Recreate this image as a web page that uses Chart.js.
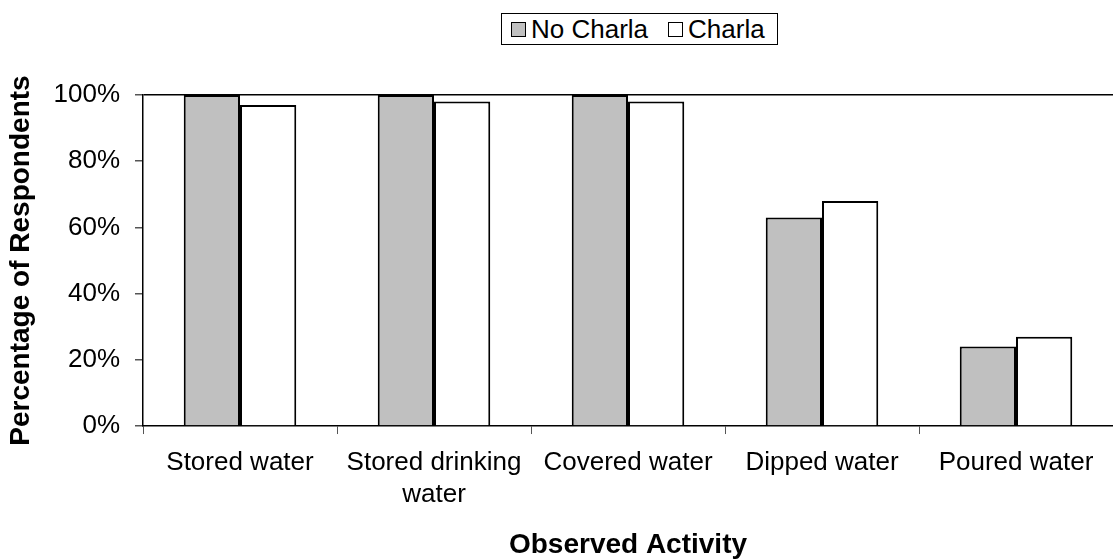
<!DOCTYPE html>
<html>
<head>
<meta charset="utf-8">
<script src="https://cdn.jsdelivr.net/npm/chart.js@4.4.1/dist/chart.umd.min.js"></script>
<style>
  html, body { margin: 0; padding: 0; background: #fff; }
  #wrap { position: relative; width: 1113px; height: 559px; }
  #legend {
    position: absolute; left: 501px; top: 13px;
    box-sizing: border-box; width: 277px; height: 32px;
    border: 1px solid #000; background: #fff;
    display: flex; align-items: center; padding: 0 0 0 9px;
    font-family: "Liberation Sans", Arial, sans-serif; font-size: 26px; color: #000;
    white-space: nowrap;
  }
  .item { display: flex; align-items: center; }
  .box { width: 13px; height: 13px; border: 1.5px solid #000; margin-right: 5px; }
</style>
</head>
<body>
<div id="wrap">
  <canvas id="chart" width="1113" height="559"></canvas>
  <div id="legend">
    <div class="item"><span class="box" style="background:#C0C0C0"></span>No Charla</div>
    <div class="item" style="margin-left:20px"><span class="box" style="background:#fff"></span>Charla</div>
  </div>
</div>
<script>
// chart data
const categories = ['Stored water', ['Stored drinking', 'water'], 'Covered water', 'Dipped water', 'Poured water'];
const noCharla = [100, 100, 100, 63, 24];
const charla = [97, 98, 98, 68, 27];
const yTicks = [0, 20, 40, 60, 80, 100];

const font = "'Liberation Sans', Arial, sans-serif";

const ctx = document.getElementById('chart').getContext('2d');
new Chart(ctx, {
    type: 'bar',
    data: {
        labels: categories,
        datasets: [
            {
                label: 'No Charla',
                data: noCharla,
                backgroundColor: '#C0C0C0',
                borderColor: '#000',
                borderWidth: 2,
                categoryPercentage: 0.58,
                barPercentage: 1
            },
            {
                label: 'Charla',
                data: charla,
                backgroundColor: '#FFFFFF',
                borderColor: '#000',
                borderWidth: 2,
                categoryPercentage: 0.58,
                barPercentage: 1
            }
        ]
    },
    options: {
        responsive: false,
        animation: false,
        layout: { padding: { top: 95, right: 0, left: 0, bottom: 0 } },
        plugins: { legend: { display: false }, tooltip: { enabled: false } }, // legend is in HTML
        scales: {
            x: {
                offset: true,
                grid: { display: true, offset: true, color: 'transparent', tickColor: '#555', tickLength: 8, drawOnChartArea: false },
                border: { display: true, color: '#000', width: 1.5 },
                ticks: { color: '#000', padding: 13, maxRotation: 0, font: { family: font, size: 26, lineHeight: 1.23 } },
                title: { display: true, text: 'Observed Activity', color: '#000', padding: { top: 7, bottom: 0 }, font: { family: font, size: 28, weight: 'bold', lineHeight: 1 } }
            },
            y: {
                min: 0,
                max: 100,
                afterBuildTicks: s => { s.ticks = yTicks.map(v => ({ value: v })); },
                afterFit: s => { s.width = 143; },
                grid: {
                    color: c => (c.tick && c.tick.value === 100 ? '#000' : 'transparent'),
                    lineWidth: 1.5,
                    tickColor: '#555',
                    tickLength: 8
                },
                border: { display: true, color: '#000', width: 1.5 },
                ticks: { color: '#000', padding: 15, callback: v => v + '%', font: { family: font, size: 26 } },
                title: { display: true, text: 'Percentage of Respondents', color: '#000', padding: { top: 4, bottom: 0 }, font: { family: font, size: 28, weight: 'bold' } }
            }
        }
    }
});
</script>
</body>
</html>
